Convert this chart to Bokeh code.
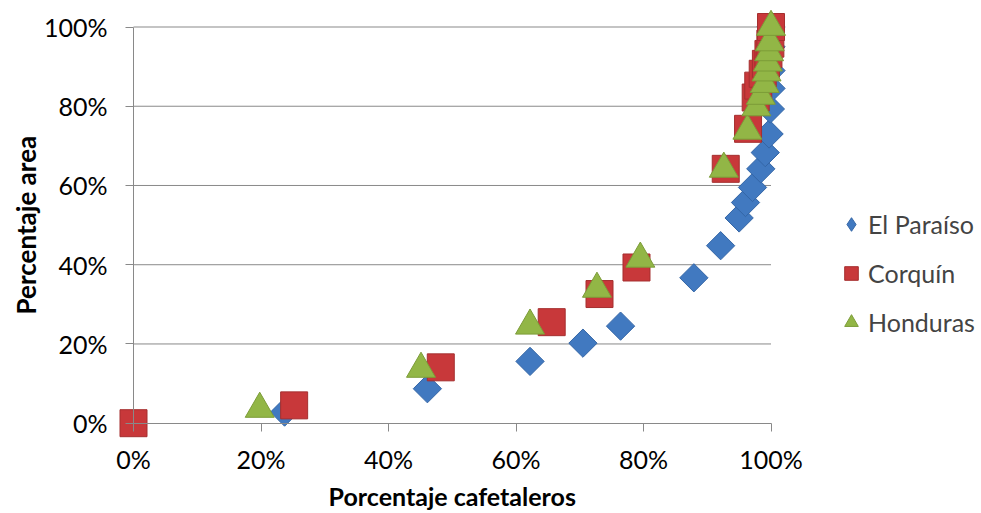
import math
from bokeh.plotting import figure
from bokeh.models import (Legend, LegendItem, FixedTicker, PrintfTickFormatter,
                          Range1d, Label)
from bokeh.embed import file_html
from bokeh.resources import INLINE

# ---- data (percent) ----
paraiso_x = [23.7, 46.1, 62.2, 70.5, 76.4, 87.9, 92.1, 95.0, 96.0, 97.1, 98.4,
             99.1, 99.7, 99.9, 100.0, 100.0, 100.0, 100.0]
paraiso_y = [2.8, 8.7, 15.6, 20.2, 24.5, 36.7, 44.8, 51.8, 55.7, 59.5, 64.2,
             68.3, 73.0, 79.3, 84.5, 89.0, 95.0, 100.0]

corquin_x = [0.0, 25.2, 48.2, 65.6, 73.1, 78.9, 92.9, 96.4, 97.6, 98.0, 98.7,
             99.2, 99.6, 99.9, 100.0]
corquin_y = [0.0, 4.5, 14.1, 25.5, 32.6, 39.3, 64.2, 74.3, 82.2, 85.2, 88.2,
             90.7, 93.2, 95.8, 100.0]

honduras_x = [19.8, 45.1, 62.2, 72.7, 79.5, 92.6, 96.3, 97.7, 98.4, 99.0, 99.3,
              99.5, 99.7, 99.8, 100.0]
honduras_y = [3.6, 13.7, 24.6, 33.9, 41.5, 64.2, 73.8, 79.7, 82.6, 85.6, 88.5,
              91.0, 93.6, 96.1, 100.0]

ticks = [0, 20, 40, 60, 80, 100]
axis_min, axis_max = 0, 100
series_names = ["El Paraíso", "Corquín", "Honduras"]
x_title = "Porcentaje cafetaleros"
y_title = "Percentaje area"

FONT = "Lato"
GRAY = "#898989"

W, H = 981, 513
# frame covers the whole canvas; data 0..100 mapped inside it
x_px0, x_px100 = 133.0, 770.5
y_px0, y_px100 = 422.7, 26.5
sx = (x_px100 - x_px0) / 100.0
sy = (y_px0 - y_px100) / 100.0
x_range = Range1d(-x_px0 / sx, (W - x_px0) / sx)
y_range = Range1d(-(H - y_px0) / sy, y_px0 / sy)

p = figure(width=W, height=H, output_backend="svg", toolbar_location=None,
           x_range=x_range, y_range=y_range,
           min_border=0, min_border_left=0, min_border_right=0,
           min_border_top=0, min_border_bottom=0)
p.outline_line_color = None
p.background_fill_color = "white"
p.border_fill_color = "white"
p.xgrid.visible = False
p.ygrid.visible = False

for ax in (p.xaxis[0], p.yaxis[0]):
    ax.ticker = FixedTicker(ticks=ticks)
    ax.formatter = PrintfTickFormatter(format="%d%%")
    ax.bounds = (axis_min, axis_max)
    ax.fixed_location = 0
    ax.axis_line_color = GRAY
    ax.major_tick_line_color = GRAY
    ax.minor_tick_line_color = None
    ax.major_tick_in = 0
    ax.major_tick_out = 8
    ax.major_label_text_font = FONT
    ax.major_label_text_font_size = "25px"
    ax.major_label_text_color = "black"
p.xaxis.major_label_standoff = 13
p.yaxis.major_label_standoff = 18

# horizontal gridlines
grid_ticks = [t for t in ticks if t != axis_min]
p.segment(x0=[axis_min] * len(grid_ticks), x1=[axis_max] * len(grid_ticks),
          y0=grid_ticks, y1=grid_ticks, line_color=GRAY, line_width=1)

BLUE, BLUE_L = "#4179c0", "#3466a6"
RED, RED_L = "#c8383a", "#a52f2f"
GREEN, GREEN_L = "#92b646", "#7c9c38"

r1 = p.scatter(paraiso_x, paraiso_y, marker="square", angle=math.pi / 4, size=20,
               fill_color=BLUE, line_color=BLUE_L, line_width=1)
r2 = p.scatter(corquin_x, corquin_y, marker="square", size=27,
               fill_color=RED, line_color=RED_L, line_width=1)
r3 = p.scatter(honduras_x, honduras_y, marker="triangle", size=29,
               fill_color=GREEN, line_color=GREEN_L, line_width=1)

# axis titles
p.add_layout(Label(x=(axis_min + axis_max) / 2, x_units="data", y=18, y_units="screen",
                   text=x_title, text_align="center", text_baseline="alphabetic",
                   text_font=FONT, text_font_size="25px", text_font_style="bold",
                   text_color="black"))
p.add_layout(Label(x=25, x_units="screen", y=(axis_min + axis_max) / 2, y_units="data",
                   angle=math.pi / 2, text=y_title, text_align="center",
                   text_baseline="alphabetic", text_font=FONT, text_font_size="26px",
                   text_font_style="bold", text_color="black"))

# legend: zero-size diamond renderer supplies the El Paraíso legend glyph
l1 = p.scatter(paraiso_x, paraiso_y, marker="diamond", size=0,
               fill_color=BLUE, line_color=BLUE_L)
legend = Legend(items=[LegendItem(label=series_names[0], renderers=[l1]),
                       LegendItem(label=series_names[1], renderers=[r2]),
                       LegendItem(label=series_names[2], renderers=[r3])],
                location=(834, 171), orientation="vertical",
                glyph_width=34, glyph_height=40, label_height=40,
                label_standoff=0, spacing=9, padding=10, margin=0,
                label_text_font=FONT, label_text_font_size="25px",
                border_line_color=None, background_fill_alpha=0)
p.add_layout(legend, "center")

open("out.html", "w").write(file_html(p, INLINE))
